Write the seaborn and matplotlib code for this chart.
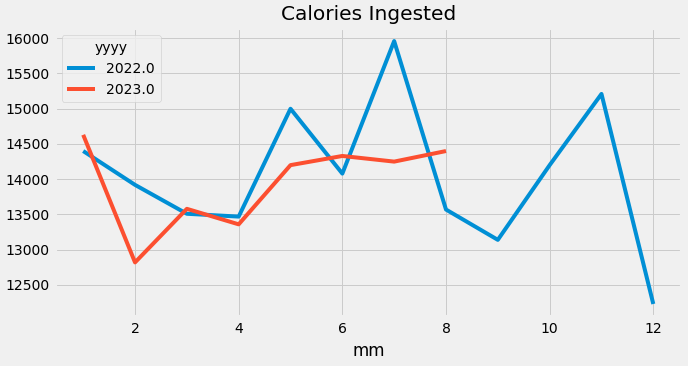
import matplotlib
matplotlib.use("Agg")
import matplotlib.pyplot as plt
import seaborn as sns
import pandas as pd

months_2022 = [1, 2, 3, 4, 5, 6, 7, 8, 9, 10, 11, 12]
cal_2022 = [14400, 13920, 13510, 13470, 15000, 14080, 15960, 13570, 13140, 14200, 15210, 12230]
months_2023 = [1, 2, 3, 4, 5, 6, 7, 8]
cal_2023 = [14630, 12820, 13580, 13360, 14200, 14330, 14250, 14400]
years = ["2022.0", "2023.0"]

df = pd.concat([
    pd.DataFrame({"mm": months_2022, "cal": cal_2022, "yyyy": years[0]}),
    pd.DataFrame({"mm": months_2023, "cal": cal_2023, "yyyy": years[1]}),
])

plt.style.use("fivethirtyeight")
s = 0.72
plt.rcParams.update({
    "font.size": 14 * s,
    "lines.linewidth": 4 * s,
    "axes.titlesize": 20.16 * s,
    "axes.labelsize": 16.8 * s,
    "xtick.labelsize": 14 * s,
    "ytick.labelsize": 14 * s,
    "legend.fontsize": 14 * s,
    "legend.title_fontsize": 14 * s,
    "grid.linewidth": 1 * s,
})

fig = plt.figure(figsize=(6.88, 3.66), dpi=100)
fig.patch.set_facecolor("#f0f0f0")
ax = fig.add_axes([0.0795, 0.1336, 0.9115, 0.79])
sns.lineplot(data=df, x="mm", y="cal", hue="yyyy",
             palette={"2022.0": "#008fd5", "2023.0": "#fc4f30"},
             ax=ax, linewidth=4 * s)
ax.set_title("Calories Ingested")
ax.set_xlabel("mm")
ax.set_ylabel("")
ax.set_xticks([2, 4, 6, 8, 10, 12])
ax.set_yticks([12500, 13000, 13500, 14000, 14500, 15000, 15500, 16000])
ax.set_xlim(0.45, 12.55)
ax.set_ylim(12044, 16146)
leg = ax.legend(title="yyyy", loc="upper left")
fig.savefig("out.png", dpi=100, facecolor="#f0f0f0")
